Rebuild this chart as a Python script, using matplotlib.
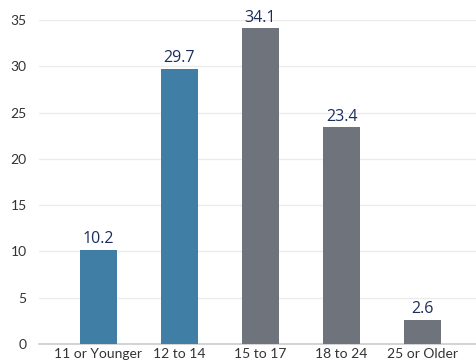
import matplotlib.pyplot as plt

categories = ["11 or Younger", "12 to 14", "15 to 17", "18 to 24", "25 or Older"]
values = [10.2, 29.7, 34.1, 23.4, 2.6]
colors = ["#417ea5", "#417ea5", "#6f737b", "#6f737b", "#6f737b"]
yticks = [0, 5, 10, 15, 20, 25, 30, 35]

fig = plt.figure(figsize=(4.77, 3.64), dpi=100)
ax = fig.add_axes([0.082, 0.055, 0.918, 0.89])

x = list(range(len(categories)))
bars = ax.bar(x, values, width=0.46, color=colors, zorder=3)

for b, v in zip(bars, values):
    ax.text(b.get_x() + b.get_width() / 2, v + 0.3, f"{v}",
            ha="center", va="bottom", fontsize=11.5, color="#1b2d5c",
            family="Open Sans", zorder=4)

ax.set_xlim(-0.73, 4.67)
ax.set_ylim(0, 35)
ax.set_yticks(yticks)
ax.set_xticks(x)
ax.set_xticklabels(categories, family="Lato", fontsize=10, color="#333333")
for lab in ax.get_yticklabels():
    lab.set_family("Lato")
    lab.set_fontsize(10)
    lab.set_color("#333333")

ax.grid(axis="y", color="#ebebeb", linewidth=1, zorder=0)
for s in ["top", "right", "left"]:
    ax.spines[s].set_visible(False)
ax.spines["bottom"].set_color("#cccccc")
ax.spines["bottom"].set_linewidth(1.2)
ax.tick_params(axis="both", length=0, pad=3)
ax.tick_params(axis="y", pad=9)

fig.savefig("out.png", dpi=100)
